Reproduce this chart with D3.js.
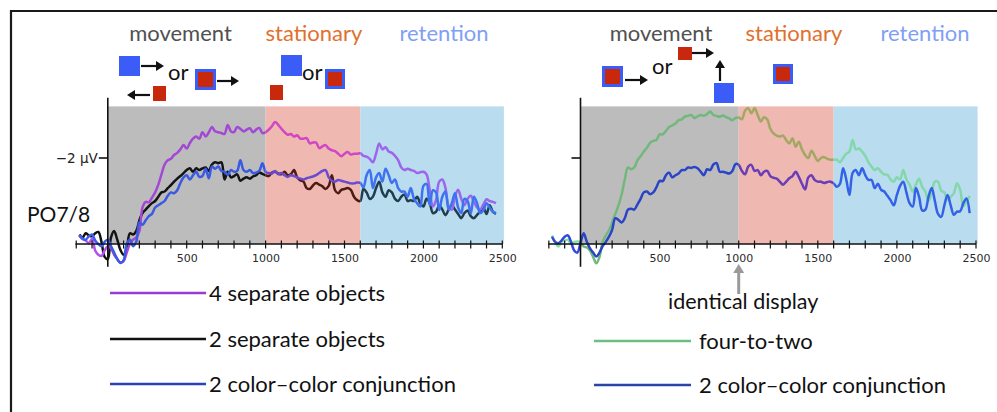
<!DOCTYPE html>
<html><head><meta charset="utf-8">
<script src="https://cdn.jsdelivr.net/npm/d3@7"></script>
<style>body{margin:0;background:#fff}svg{display:block}</style>
</head><body>
<svg id="c" width="997" height="412"></svg>
<script>
// ---------------- data ----------------
const T0 = -180, STEP = 20;               // sample times (ms) of every series
const majorTicks = [500, 1000, 1500, 2000, 2500];
const minorTicks = d3.range(-200, 2501, 100);
const periodNames = ["movement", "stationary", "retention"];
const periodBounds = [0, 1000, 1600, 2510];
const yTickValue = -2, yTickLabel = "\u22122 \u00b5V";
const channelLabel = "PO7/8";
const leftNames = ["4 separate objects", "2 separate objects", "2 color\u2013color conjunction"];
const rightNames = ["four-to-two", "2 color\u2013color conjunction"];
const noteLabel = "identical display", noteTime = 1000;

const fourSeparate = [
-0.2,-0.12,-0.08,-0.02,-0.12,0.15,0.25,0.28,0.15,0.05,
0.1,0.25,0.35,0.43,0.4,0.2,0.0,-0.1,-0.15,-0.3,
-0.85,-0.98,-0.97,-1.08,-1.2,-1.38,-1.62,-1.85,-1.95,-1.98,
-2.07,-2.12,-2.2,-2.3,-2.22,-2.35,-2.45,-2.5,-2.45,-2.6,
-2.5,-2.6,-2.72,-2.62,-2.6,-2.58,-2.56,-2.77,-2.62,-2.6,
-2.72,-2.68,-2.62,-2.66,-2.69,-2.6,-2.66,-2.7,-2.58,-2.6,
-2.66,-2.74,-2.84,-2.77,-2.68,-2.6,-2.54,-2.56,-2.5,-2.53,
-2.45,-2.45,-2.46,-2.34,-2.36,-2.36,-2.23,-2.27,-2.3,-2.22,
-2.18,-2.16,-2.1,-2.04,-2.1,-2.14,-2.08,-2.1,-2.1,-2.11,
-2.05,-2.03,-1.98,-1.9,-2.1,-2.34,-2.2,-2.25,-2.15,-2.12,
-2.05,-1.95,-1.78,-1.72,-1.75,-1.72,-1.7,-1.65,-1.67,-1.68,
-1.62,-1.26,-0.87,-1.02,-1.45,-1.5,-1.3,-0.87,-0.8,-1.1,
-1.26,-1.05,-0.9,-1.05,-1.12,-0.98,-0.85,-0.8,-0.92,-1.04,
-1.0,-0.98,-0.95];
const twoSeparate = [
-0.22,-0.15,-0.25,-0.2,-0.18,-0.25,-0.28,-0.05,0.3,0.35,
-0.15,-0.3,-0.1,0.14,0.25,0.1,-0.25,-0.22,-0.3,-0.55,
-0.72,-0.8,-0.88,-0.95,-1.0,-1.1,-1.2,-1.22,-1.3,-1.37,
-1.45,-1.52,-1.58,-1.65,-1.72,-1.76,-1.68,-1.76,-1.72,-1.76,
-1.78,-1.7,-1.85,-1.9,-1.88,-1.9,-1.5,-1.68,-1.55,-1.58,
-1.62,-1.47,-1.52,-1.55,-1.52,-1.57,-1.6,-1.66,-1.63,-1.6,
-1.58,-1.66,-1.68,-1.64,-1.62,-1.68,-1.6,-1.62,-1.72,-1.55,
-1.48,-1.45,-1.3,-1.28,-1.36,-1.42,-1.38,-1.34,-1.28,-1.35,
-1.6,-1.25,-1.18,-1.26,-1.28,-1.3,-1.26,-1.1,-1.02,-1.0,
-1.28,-1.2,-1.05,-1.1,-1.3,-1.45,-1.2,-1.1,-1.25,-1.2,
-1.05,-1.0,-1.1,-1.15,-1.0,-1.02,-1.0,-1.1,-0.95,-0.87,
-1.05,-0.95,-0.72,-0.75,-0.9,-0.8,-0.67,-0.8,-0.9,-0.8,
-0.7,-0.6,-0.72,-0.78,-0.65,-0.6,-0.68,-0.75,-0.85,-0.7,
-0.9,-0.75,-0.7];
const conjLeft = [
-0.2,-0.12,-0.1,-0.18,-0.22,-0.08,0.0,0.05,-0.05,-0.1,
0.05,0.2,0.35,0.44,0.38,0.0,-0.1,0.05,-0.05,-0.5,
-0.45,-0.55,-0.65,-0.7,-0.85,-0.9,-0.95,-1.0,-1.12,-1.2,
-1.18,-1.25,-1.42,-1.55,-1.6,-1.5,-1.6,-1.68,-1.56,-1.58,
-1.75,-1.53,-1.8,-1.75,-1.8,-1.7,-1.68,-1.61,-1.72,-1.68,
-1.7,-1.95,-1.72,-1.68,-1.72,-1.65,-1.66,-1.7,-1.88,-1.68,
-1.65,-1.64,-1.7,-1.62,-1.65,-1.6,-1.56,-1.6,-1.58,-1.55,
-1.52,-1.5,-1.53,-1.55,-1.57,-1.6,-1.65,-1.7,-1.72,-1.55,
-1.47,-1.45,-1.49,-1.47,-1.45,-1.43,-1.41,-1.41,-1.43,-1.42,
-1.32,-1.6,-1.72,-1.3,-1.55,-1.65,-1.45,-1.75,-1.6,-1.42,
-1.5,-1.3,-1.22,-1.22,-1.1,-1.3,-1.05,-0.95,-0.87,-1.35,
-1.4,-0.9,-1.25,-1.2,-0.79,-1.1,-1.22,-0.8,-0.95,-1.18,
-0.85,-0.72,-1.05,-1.0,-0.71,-1.1,-0.95,-0.72,-0.78,-0.95,
-0.85,-0.75,-0.72];
const fourToTwo = [
-0.2,-0.03,0.06,-0.05,-0.08,-0.1,0.0,-0.05,-0.06,-0.04,
0.06,0.08,0.15,0.3,0.45,0.3,-0.05,-0.2,-0.32,-0.5,
-0.7,-0.9,-1.15,-1.5,-1.78,-1.74,-1.78,-1.95,-2.04,-2.15,
-2.24,-2.35,-2.4,-2.42,-2.55,-2.55,-2.63,-2.72,-2.76,-2.8,
-2.88,-2.9,-2.96,-2.98,-3.0,-2.93,-2.97,-3.0,-2.98,-3.02,
-3.08,-3.0,-2.98,-2.96,-2.99,-2.95,-2.92,-2.88,-2.93,-2.94,
-2.9,-3.1,-3.16,-3.04,-3.16,-3.0,-2.85,-2.95,-2.9,-2.68,
-2.57,-2.52,-2.5,-2.52,-2.42,-2.34,-2.46,-2.26,-2.38,-2.2,
-2.07,-2.0,-2.17,-2.05,-1.93,-2.0,-2.02,-1.98,-1.96,-1.96,
-1.96,-1.9,-2.0,-2.1,-2.15,-2.42,-2.2,-2.22,-2.15,-2.05,
-1.9,-1.8,-1.72,-1.76,-1.68,-1.62,-1.61,-1.5,-1.45,-1.55,
-1.5,-1.72,-1.5,-1.38,-1.22,-1.38,-1.52,-1.33,-1.22,-1.0,
-1.2,-1.45,-1.45,-1.24,-1.2,-1.03,-1.1,-1.18,-1.41,-1.26,
-0.88,-0.98,-1.12];
const conjRight = [
-0.17,-0.05,-0.02,-0.08,-0.17,-0.2,-0.05,0.15,0.2,-0.02,
-0.25,-0.05,0.1,0.2,0.29,0.2,0.05,-0.05,-0.17,-0.33,
-0.6,-0.56,-0.5,-0.6,-0.8,-0.82,-0.8,-0.92,-1.05,-1.2,
-1.22,-1.16,-1.2,-1.32,-1.47,-1.46,-1.6,-1.66,-1.55,-1.6,
-1.64,-1.72,-1.72,-1.78,-1.77,-1.79,-1.76,-1.68,-1.6,-1.74,
-1.72,-1.85,-1.88,-1.68,-1.68,-1.66,-1.64,-1.7,-1.86,-1.84,
-1.7,-1.62,-1.8,-1.84,-1.7,-1.72,-1.6,-1.68,-1.7,-1.58,
-1.54,-1.52,-1.45,-1.38,-1.45,-1.53,-1.58,-1.68,-1.56,-1.4,
-1.27,-1.55,-1.6,-1.49,-1.45,-1.45,-1.42,-1.44,-1.45,-1.41,
-1.33,-1.4,-1.76,-1.5,-1.14,-1.65,-1.72,-1.6,-1.76,-1.6,
-1.49,-1.49,-1.3,-1.4,-1.26,-1.22,-1.12,-1.02,-0.9,-1.14,
-1.35,-1.45,-1.2,-0.95,-0.87,-1.3,-1.1,-0.78,-0.8,-1.1,
-1.3,-1.0,-0.7,-0.63,-0.9,-1.14,-0.9,-0.68,-0.75,-0.76,
-0.95,-1.06,-0.72];

// ---------------- styles ----------------
const FONT = "Lato, 'Open Sans', sans-serif";
const TICKFONT = "'DejaVu Sans', Verdana, sans-serif";
const regionFill = ["#bcbcbc", "#efb8b0", "#b9dcef"];
const periodColor = ["#505050", "#e2702c", "#7fa0f4"];
// colours per region: [before 0, movement, stationary, retention]
const palette = {
  purple: ["#b452ec", "#a248d4", "#d046c4", "#9c66ec"],
  black:  ["#111111", "#141414", "#4c1c12", "#1f3d4c"],
  blueL:  ["#3c5ef0", "#3a5ae2", "#6a4ad0", "#3f72f0"],
  green:  ["#84e2a4", "#72b87c", "#a2a864", "#82d8aa"],
  blueR:  ["#3048e0", "#2a44c8", "#6a3cb8", "#3462e6"]
};
const legendColor = {purple:"#9a3ad0", black:"#111111", blueL:"#2a44b8", green:"#6cbf80", blueR:"#2a44a8"};
const RED = "#c8280c", BLUE = "#3b5cf6";

const svg = d3.select("#c");
const y = d3.scaleLinear().domain([0, -2]).range([244, 158]);

const panels = [
  { x: d3.scaleLinear().domain([0, 2500]).range([107.8, 502.3]), id: "L",
    series: [{v: twoSeparate, k: "black"}, {v: fourSeparate, k: "purple"}, {v: conjLeft, k: "blueL"}],
    labelX: [180.5, 314, 444], showLabel: true },
  { x: d3.scaleLinear().domain([0, 2500]).range([580.5, 976]), id: "R",
    series: [{v: fourToTwo, k: "green"}, {v: conjRight, k: "blueR"}],
    labelX: [661, 794, 925], showLabel: false }
];

// frame
svg.append("path").attr("d", "M11,412 V11 H997").attr("fill", "none")
  .attr("stroke", "#1a1a1a").attr("stroke-width", 2.2);

const defs = svg.append("defs");
const clipBounds = [-400, 0, 1000, 1600, 2800];

panels.forEach(p => {
  const x = p.x;
  periodNames.forEach((n, i) => {
    svg.append("rect")
      .attr("x", x(periodBounds[i])).attr("y", y(-3.2))
      .attr("width", x(periodBounds[i + 1]) - x(periodBounds[i]))
      .attr("height", y(0) - y(-3.2))
      .attr("fill", regionFill[i]);
    svg.append("text").attr("x", p.labelX[i]).attr("y", 41)
      .attr("text-anchor", "middle").attr("font-family", FONT)
      .attr("font-size", 22).attr("fill", periodColor[i]).text(n);
  });
  for (let r = 0; r < 4; r++) {
    defs.append("clipPath").attr("id", `clip${p.id}${r}`).append("rect")
      .attr("x", x(clipBounds[r])).attr("y", 0)
      .attr("width", x(clipBounds[r + 1]) - x(clipBounds[r])).attr("height", 412);
  }
  const line = d3.line()
    .x((d, i) => x(T0 + i * STEP)).y(d => y(d))
    .curve(d3.curveCatmullRom.alpha(0.5));
  p.series.forEach(s => {
    for (let r = 0; r < 4; r++) {
      svg.append("path").attr("d", line(s.v))
        .attr("clip-path", `url(#clip${p.id}${r})`)
        .attr("fill", "none").attr("stroke", palette[s.k][r])
        .attr("stroke-width", 2.5).attr("stroke-linejoin", "round");
    }
  });
  const ax = svg.append("g");
  ax.append("line").attr("x1", x(-205)).attr("x2", x(2500))
    .attr("y1", y(0)).attr("y2", y(0)).attr("stroke", "#111").attr("stroke-width", 1.6);
  ax.selectAll(".mt").data(minorTicks).join("line")
    .attr("x1", d => x(d)).attr("x2", d => x(d))
    .attr("y1", y(0) - 3.5).attr("y2", y(0) + 4.5)
    .attr("stroke", "#111").attr("stroke-width", 1.2);
  const axis = d3.axisBottom(x).tickValues(majorTicks).tickSize(0).tickPadding(0).tickFormat(d3.format("d"));
  const g = svg.append("g").attr("transform", `translate(0,${y(0) + 9})`).call(axis);
  g.select(".domain").remove();
  g.selectAll("text").attr("font-family", TICKFONT).attr("font-size", 11).attr("fill", "#2a2a2a").attr("dy", "0.85em");
  svg.append("line").attr("x1", x(0)).attr("x2", x(0))
    .attr("y1", y(-3.4)).attr("y2", y(0.53)).attr("stroke", "#111").attr("stroke-width", 1.6);
  svg.append("line").attr("x1", x(0) - 9).attr("x2", x(0))
    .attr("y1", y(yTickValue)).attr("y2", y(yTickValue)).attr("stroke", "#111").attr("stroke-width", 1.6);
  if (p.showLabel) {
    svg.append("text").attr("x", x(0) - 10).attr("y", y(yTickValue)).attr("dy", "0.35em")
      .attr("text-anchor", "end").attr("font-family", TICKFONT).attr("font-size", 13.5)
      .attr("fill", "#222").text(yTickLabel);
    svg.append("text").attr("x", 27).attr("y", 222).attr("font-family", FONT)
      .attr("font-size", 21).attr("fill", "#111").text(channelLabel);
  }
});

// ---------------- stimulus icons ----------------
function arrow(x1, y1, x2, y2, color, w, hl, hw) {
  const a = Math.atan2(y2 - y1, x2 - x1);
  const bx = x2 - hl * Math.cos(a), by = y2 - hl * Math.sin(a);
  svg.append("line").attr("x1", x1).attr("y1", y1).attr("x2", bx).attr("y2", by)
    .attr("stroke", color).attr("stroke-width", w);
  const px = -Math.sin(a) * hw / 2, py = Math.cos(a) * hw / 2;
  svg.append("path").attr("d", `M${x2},${y2}L${bx + px},${by + py}L${bx - px},${by - py}Z`).attr("fill", color);
}
function sq(x0, y0, w, h, c) { svg.append("rect").attr("x", x0).attr("y", y0).attr("width", w).attr("height", h).attr("fill", c); }
function redBlue(x0, y0, s) { sq(x0, y0, s, s, BLUE); sq(x0 + 3, y0 + 3, s - 6, s - 6, RED); }
function orText(x0, yb) { svg.append("text").attr("x", x0).attr("y", yb).attr("font-family", FONT).attr("font-size", 22).attr("fill", "#111").text("or"); }

sq(119, 56, 21, 20, BLUE); arrow(141, 66, 164, 66, "#111", 2.2, 8, 10);
orText(168, 80);
redBlue(195, 69, 21); arrow(217, 81, 239, 81, "#111", 2.2, 8, 10);
arrow(150, 95, 127, 95, "#111", 2.2, 8, 10); sq(153, 86, 13, 15, RED);
sq(281, 55, 21, 21, BLUE); orText(302, 80); redBlue(325, 69, 20); sq(270, 85, 13, 15, RED);
redBlue(602, 66, 21); arrow(625, 80, 648, 80, "#111", 2.2, 8, 10);
orText(652, 74);
sq(678, 47, 14, 13, RED); arrow(692, 53, 714, 53, "#111", 2.2, 8, 10);
arrow(720, 81, 720, 60, "#111", 2.2, 8, 10);
sq(714, 83, 20, 20, BLUE);
redBlue(773, 64, 20);

const xr = panels[1].x;
arrow(xr(noteTime), 294, xr(noteTime), 264, "#9a9a9a", 3, 9, 11);
svg.append("text").attr("x", 668).attr("y", 309).attr("font-family", FONT)
  .attr("font-size", 21.5).attr("fill", "#111").text(noteLabel);

// ---------------- legends ----------------
const legL = [["purple", 293], ["black", 339], ["blueL", 384]];
legL.forEach((d, i) => {
  svg.append("line").attr("x1", 110).attr("x2", 206).attr("y1", d[1]).attr("y2", d[1])
    .attr("stroke", legendColor[d[0]]).attr("stroke-width", 2.4);
  svg.append("text").attr("x", 209).attr("y", d[1]).attr("dy", "0.36em").attr("font-family", FONT)
    .attr("font-size", 22).attr("fill", "#111").text(leftNames[i]);
});
const legR = [["green", 341], ["blueR", 385]];
legR.forEach((d, i) => {
  svg.append("line").attr("x1", 594).attr("x2", 691).attr("y1", d[1]).attr("y2", d[1])
    .attr("stroke", legendColor[d[0]]).attr("stroke-width", 2.4);
  svg.append("text").attr("x", 699).attr("y", d[1]).attr("dy", "0.36em").attr("font-family", FONT)
    .attr("font-size", 22).attr("fill", "#111").text(rightNames[i]);
});
</script>
</body></html>
